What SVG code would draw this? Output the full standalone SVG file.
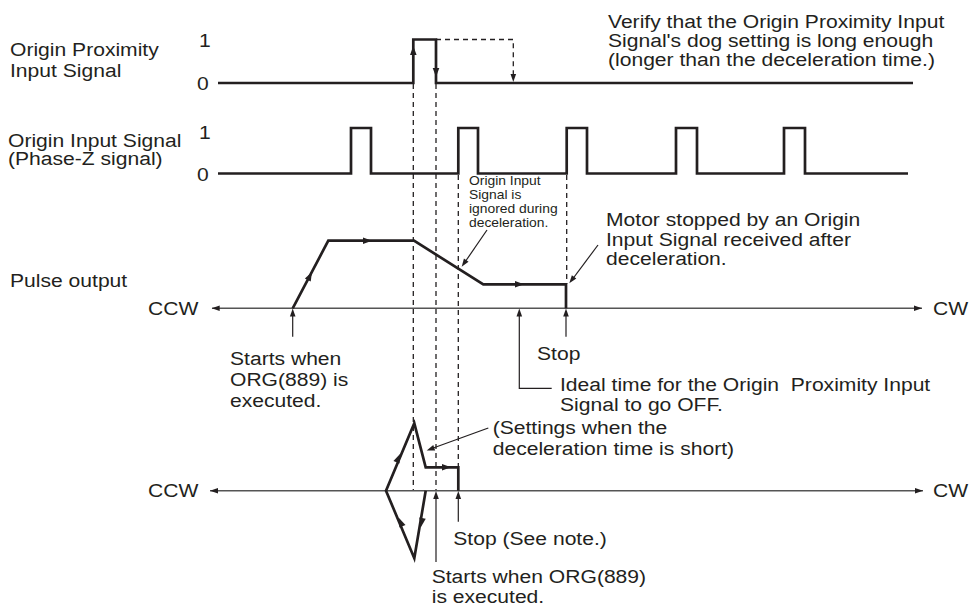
<svg xmlns="http://www.w3.org/2000/svg" xmlns:xlink="http://www.w3.org/1999/xlink" width="970" height="606" viewBox="0 0 970 606">
<style>
.t{font-family:"Liberation Sans",Arial,Helvetica,sans-serif;font-size:19px;fill:#231f20}
.s{font-size:12.5px}
.sig{fill:none;stroke:#231f20;stroke-width:2.7;stroke-linejoin:miter;stroke-linecap:butt}
.ax{fill:none;stroke:#555;stroke-width:1.4}
.dash{fill:none;stroke:#231f20;stroke-width:1.3;stroke-dasharray:5 4}
.ld{fill:none;stroke:#231f20;stroke-width:1.2}
.ah{fill:#231f20}
</style>
<defs>
<path id="a" class="ah" d="M0,0 L-8,-2.8 L-8,2.8 Z"/>
<path id="b" class="ah" d="M0,0 L-9,-3.3 L-9,3.3 Z"/>
</defs>
<rect width="970" height="606" fill="#fff"/>

<g id="labels-left">
<text class="t" transform="matrix(1.11 0 0 1 10 56)">Origin Proximity</text>
<text class="t" transform="matrix(1.11 0 0 1 10 77)">Input Signal</text>
<text class="t" transform="matrix(1.11 0 0 1 199 47)">1</text>
<text class="t" transform="matrix(1.11 0 0 1 197 90)">0</text>
<text class="t" transform="matrix(1.11 0 0 1 8 147)">Origin Input Signal</text>
<text class="t" transform="matrix(1.11 0 0 1 8 165)">(Phase-Z signal)</text>
<text class="t" transform="matrix(1.11 0 0 1 199 139)">1</text>
<text class="t" transform="matrix(1.11 0 0 1 197 181)">0</text>
<text class="t" transform="matrix(1.11 0 0 1 10 287)">Pulse output</text>
</g>

<g id="signal-proximity">
<path class="sig" d="M218,83 H413.3 V39.5 H436 V83 H913"/>
<use xlink:href="#b" transform="translate(413.3,46) rotate(-90)"/>
<use xlink:href="#b" transform="translate(436,77) rotate(90)"/>
<path class="dash" d="M436,39.5 H513.3 V78"/>
<use xlink:href="#a" transform="translate(513.3,82) rotate(90)"/>
</g>

<g id="signal-origin">
<path class="sig" d="M218,173.5 H351 V128 H371 V173.5 H458.3 V128 H478 V173.5 H566.7 V128 H587 V173.5 H676 V128 H697 V173.5 H784 V128 H805 V173.5 H908"/>
</g>

<g id="guides">
<path class="dash" d="M413.3,84 V490"/>
<path class="dash" d="M436,84 V490"/>
<path class="dash" d="M458.3,175 V467"/>
<path class="dash" d="M566.7,175 V284"/>
</g>

<g id="axis-upper">
<path class="ax" d="M212,308.3 H922"/>
<use xlink:href="#a" transform="translate(211.7,308.3) rotate(180)"/>
<use xlink:href="#a" transform="translate(922,308.3)"/>
<text class="t" transform="matrix(1.11 0 0 1 148 315)">CCW</text>
<text class="t" transform="matrix(1.11 0 0 1 933 315)">CW</text>
</g>

<g id="pulse-upper">
<path class="sig" d="M292.7,308.3 L328.3,240.7 H414 L483.3,284.3 H566 V308.3"/>
<use xlink:href="#b" transform="translate(312,272) rotate(-62.1)"/>
<use xlink:href="#b" transform="translate(372,240.7)"/>
<use xlink:href="#b" transform="translate(524,284.3)"/>
</g>

<g id="axis-lower">
<path class="ax" d="M210,490.7 H923"/>
<use xlink:href="#a" transform="translate(210,490.7) rotate(180)"/>
<use xlink:href="#a" transform="translate(923,490.7)"/>
<text class="t" transform="matrix(1.11 0 0 1 148 497)">CCW</text>
<text class="t" transform="matrix(1.11 0 0 1 933 497)">CW</text>
</g>

<g id="pulse-lower">
<path class="sig" d="M458.3,490.7 V467.3 H425.7 L414.3,423.3 L386,490.7 L414.3,558.3 L425.7,490.7"/>
<use xlink:href="#b" transform="translate(400,454) rotate(-67)"/>
<use xlink:href="#b" transform="translate(451,467.3)"/>
<use xlink:href="#b" transform="translate(399,518) rotate(-112.5)"/>
<use xlink:href="#b" transform="translate(421,527) rotate(99.5)"/>
</g>

<g id="connectors">
<path class="ld" d="M292.7,336.7 V312"/>
<use xlink:href="#a" transform="translate(292.7,308.5) rotate(-90)"/>
<path class="ld" d="M551.7,388.3 H519.3 V312"/>
<use xlink:href="#a" transform="translate(519.3,308.5) rotate(-90)"/>
<path class="ld" d="M566,336.7 V312"/>
<use xlink:href="#a" transform="translate(566,308.5) rotate(-90)"/>
<path class="ld" d="M487,230 L464,263.5"/>
<use xlink:href="#a" transform="translate(461.7,266.7) rotate(124.6)"/>
<path class="ld" d="M598,245 L571.5,280.5"/>
<use xlink:href="#a" transform="translate(569.3,283.3) rotate(126.8)"/>
<path class="ld" d="M488.3,428 L430.5,449"/>
<use xlink:href="#a" transform="translate(426.7,450.5) rotate(159.9)"/>
<path class="ld" d="M458.3,521.7 V494"/>
<use xlink:href="#a" transform="translate(458.3,491) rotate(-90)"/>
<path class="ld" d="M436,562 V494"/>
<use xlink:href="#a" transform="translate(436,491) rotate(-90)"/>
</g>

<g id="notes">
<text class="t" transform="matrix(1.11 0 0 1 608 28)">Verify that the Origin Proximity Input</text>
<text class="t" transform="matrix(1.11 0 0 1 608 47)">Signal's dog setting is long enough</text>
<text class="t" transform="matrix(1.11 0 0 1 608 66)">(longer than the deceleration time.)</text>
<text class="t s" transform="matrix(1.11 0 0 1 469 185)">Origin Input</text>
<text class="t s" transform="matrix(1.11 0 0 1 469 199)">Signal is</text>
<text class="t s" transform="matrix(1.11 0 0 1 469 213)">ignored during</text>
<text class="t s" transform="matrix(1.11 0 0 1 469 227)">deceleration.</text>
<text class="t" transform="matrix(1.11 0 0 1 606 226)">Motor stopped by an Origin</text>
<text class="t" transform="matrix(1.11 0 0 1 606 245.5)">Input Signal received after</text>
<text class="t" transform="matrix(1.11 0 0 1 606 265)">deceleration.</text>
<text class="t" transform="matrix(1.11 0 0 1 230 365)">Starts when</text>
<text class="t" transform="matrix(1.11 0 0 1 230 386)">ORG(889) is</text>
<text class="t" transform="matrix(1.11 0 0 1 230 407)">executed.</text>
<text class="t" transform="matrix(1.11 0 0 1 537 360)">Stop</text>
<text class="t" style="white-space:pre" transform="matrix(1.11 0 0 1 560 391)">Ideal time for the Origin  Proximity Input</text>
<text class="t" transform="matrix(1.11 0 0 1 560 411)">Signal to go OFF.</text>
<text class="t" transform="matrix(1.11 0 0 1 492.7 434)">(Settings when the</text>
<text class="t" transform="matrix(1.11 0 0 1 492.7 455)">deceleration time is short)</text>
<text class="t" transform="matrix(1.11 0 0 1 453.3 545)">Stop (See note.)</text>
<text class="t" transform="matrix(1.11 0 0 1 431.7 583)">Starts when ORG(889)</text>
<text class="t" transform="matrix(1.11 0 0 1 431.7 603)">is executed.</text>
</g>
</svg>
